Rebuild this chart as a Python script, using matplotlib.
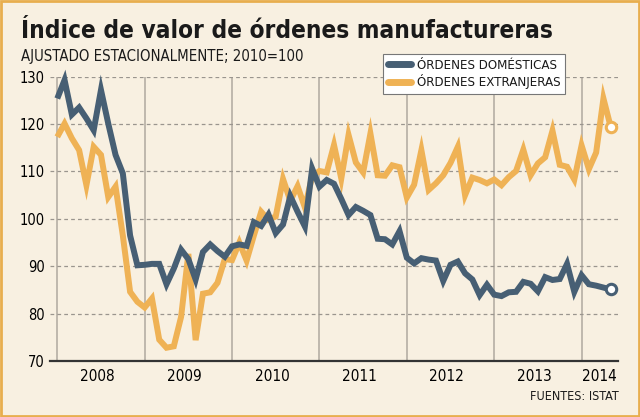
import numpy as np
import matplotlib.pyplot as plt
from matplotlib import font_manager as fm
from matplotlib.patches import Rectangle

# monthly index, Jan 2008 .. May 2014
domesticas = [
    125.4, 129.3, 122.0, 123.5, 121.2, 118.7, 127.2, 120.1, 113.5, 109.6, 96.5, 90.2,   # 2008
    90.3, 90.5, 90.5, 86.2, 89.5, 93.5, 91.5, 87.2, 93.0, 94.6, 93.2, 92.0,             # 2009
    94.2, 94.6, 94.3, 99.3, 98.5, 100.9, 97.0, 98.8, 104.8, 101.5, 98.4, 110.6,         # 2010
    106.8, 108.2, 107.4, 104.2, 100.8, 102.5, 101.7, 100.8, 95.8, 95.7, 94.6, 97.4,     # 2011
    91.8, 90.6, 91.7, 91.4, 91.2, 86.9, 90.3, 91.0, 88.5, 87.2, 83.9, 86.1,             # 2012
    84.0, 83.7, 84.5, 84.6, 86.7, 86.3, 84.7, 87.7, 87.1, 87.3, 90.5, 84.6,             # 2013
    88.1, 86.2, 85.9, 85.5, 85.1,                                                       # 2014
]
extranjeras = [
    117.3, 120.1, 117.0, 114.5, 107.1, 115.2, 113.5, 104.6, 106.8, 96.5, 84.6, 82.5,
    81.3, 83.2, 74.5, 72.8, 73.1, 79.3, 92.6, 74.4, 84.2, 84.5, 86.5, 91.5,
    91.3, 95.0, 91.2, 96.5, 101.5, 99.8, 100.5, 108.4, 103.8, 106.9, 102.4, 109.0,
    110.1, 109.8, 115.6, 108.5, 117.7, 111.9, 109.8, 118.0, 109.2, 109.1, 111.3, 110.9,
    104.5, 107.2, 114.5, 106.1, 107.5, 109.2, 111.8, 115.2, 105.0, 108.7, 108.2, 107.5,
    108.3, 107.1, 108.8, 110.1, 114.6, 109.2, 111.7, 113.0, 118.6, 111.4, 111.0, 108.3,
    115.5, 110.5, 114.0, 125.4, 119.4,
]
years = ['2008', '2009', '2010', '2011', '2012', '2013', '2014']
labels = ['ÓRDENES DOMÉSTICAS', 'ÓRDENES EXTRANJERAS']

BG = '#f8f0e1'
DARK = '#475f74'
ORANGE = '#efb255'
plt.rcParams['font.family'] = ['DejaVu Sans']
plt.rcParams['text.color'] = '#1a1a1a'

# narrow face for the texts: DejaVu Sans Condensed if present, else Liberation Sans
cond_file = fm.findfont(fm.FontProperties(family='DejaVu Sans', stretch='condensed', weight='bold'))
if 'Condensed' in cond_file:
    narrow = dict(family=['DejaVu Sans'], stretch='condensed')
    t_size, s_size, l_size = 17.5, 10.7, 9.5
else:
    narrow = dict(family=['Liberation Sans'])
    t_size, s_size, l_size = 18.5, 11, 9.8

fig = plt.figure(figsize=(6.4, 4.17), dpi=100, facecolor=BG)
fig.patches.append(Rectangle((0.0015, 0.002), 0.997, 0.996, transform=fig.transFigure,
                             fill=False, edgecolor='#e8ae4e', linewidth=2))

ax = fig.add_axes([50 / 640, 1 - 361 / 417, 568 / 640, 284.3 / 417])
ax.set_facecolor(BG)

x = np.arange(len(domesticas))
l2, = ax.plot(x, extranjeras, color=ORANGE, lw=4.3, solid_joinstyle='miter',
              solid_capstyle='butt', clip_on=False, zorder=3)
l1, = ax.plot(x, domesticas, color=DARK, lw=4.3, solid_joinstyle='miter',
              solid_capstyle='butt', clip_on=False, zorder=4)
ax.plot(x[-1], extranjeras[-1], 'o', ms=7.5, mfc='white', mec=ORANGE, mew=2.2, zorder=5, clip_on=False)
ax.plot(x[-1], domesticas[-1], 'o', ms=7.5, mfc='white', mec=DARK, mew=2.2, zorder=5, clip_on=False)

ax.set_xlim(-1, 77)
ax.set_ylim(70, 130)
ax.set_yticks(range(70, 131, 10))
ax.tick_params(axis='y', length=0, pad=4)
for t in ax.get_yticklabels():
    t.set_fontproperties(fm.FontProperties(size=10.5, **narrow))

starts = np.arange(0, 73, 12)
centers = list(starts[:-1] + 5.5) + [74.5]
ax.set_xticks(starts)
ax.set_xticklabels([])
ax.set_xticks(centers, labels=years, minor=True)
ax.tick_params(axis='x', which='both', length=0)
ax.tick_params(axis='x', which='minor', pad=6)
for t in ax.get_xticklabels(minor=True):
    t.set_fontproperties(fm.FontProperties(size=11, **narrow))

ax.grid(axis='x', which='major', color='#b5aea4', lw=1.2)
for v in range(80, 131, 10):
    ax.axhline(v, color='#9a958e', lw=0.9, ls=(0, (3, 2.5)), zorder=1)
ax.set_axisbelow(True)

for s in ['left', 'right', 'top']:
    ax.spines[s].set_visible(False)
ax.spines['bottom'].set_color('#333333')
ax.spines['bottom'].set_linewidth(1.6)

fig.text(21 / 640, 1 - 38 / 417, 'Índice de valor de órdenes manufactureras',
         fontsize=t_size, fontweight='bold', va='baseline', ha='left', **narrow)
fig.text(21 / 640, 1 - 61 / 417, 'AJUSTADO ESTACIONALMENTE; 2010=100',
         fontsize=s_size, va='baseline', ha='left', **narrow)
fig.text(619 / 640, 1 - 400 / 417, 'FUENTES: ISTAT', fontsize=9, va='baseline', ha='right', **narrow)

leg = fig.legend([l1, l2], labels, loc='upper left', bbox_to_anchor=(383 / 640, 1 - 54 / 417),
                 bbox_transform=fig.transFigure, borderaxespad=0,
                 prop=fm.FontProperties(size=l_size, **narrow),
                 handlelength=1.8, handletextpad=0.4, labelspacing=0.2, borderpad=0.35,
                 fancybox=False, framealpha=1)
leg.get_frame().set_facecolor('white')
leg.get_frame().set_edgecolor('#777777')
leg.get_frame().set_linewidth(0.8)
for h in leg.get_lines():
    h.set_linewidth(5)
    h.set_solid_capstyle('round')

fig.savefig('out.png', dpi=100, facecolor=BG)
